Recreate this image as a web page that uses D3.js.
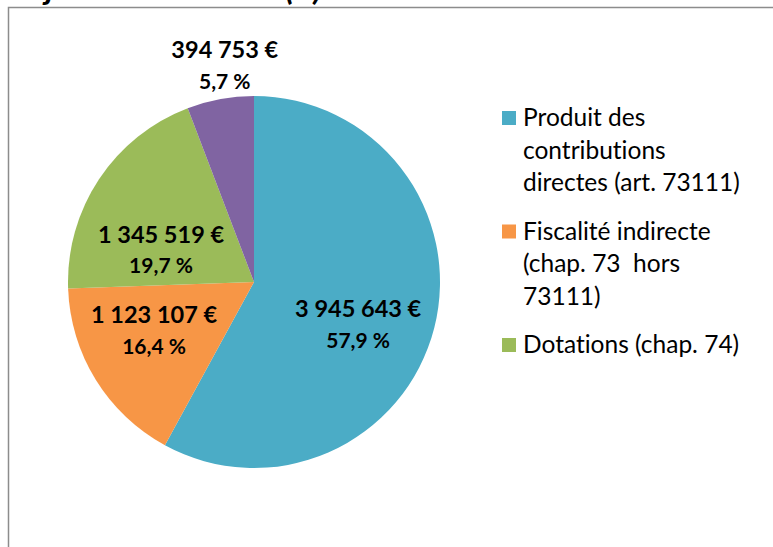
<!DOCTYPE html>
<html>
<head>
<meta charset="utf-8">
<script src="https://cdn.jsdelivr.net/npm/d3@7"></script>
<style>
  html, body { margin: 0; padding: 0; background: #fff; overflow: hidden; }
  text { font-family: Lato, "Open Sans", sans-serif; fill: #000; font-variant-ligatures: none; }
</style>
</head>
<body>
<div id="chart"></div>
<script>
// data
var categories = ["Produit des contributions directes (art. 73111)",
                  "Fiscalité indirecte (chap. 73 hors 73111)",
                  "Dotations (chap. 74)",
                  "Autres"];
var amounts = [3945643, 1123107, 1345519, 394753];
var percents = [57.9, 16.4, 19.7, 5.7];
var colors = ["#4bacc6", "#f79646", "#9bbb59", "#8064a2"];
var legendLines = [["Produit des", "contributions", "directes (art. 73111)"],
                   ["Fiscalité indirecte", "(chap. 73  hors", "73111)"],
                   ["Dotations (chap. 74)"]];
var title = "Projections en 2011 (€)";

// layout
var width = 773, height = 547;
var cx = 254, cy = 282, radius = 186;
var labelNudge = [[-4, 14], [-5, -11], [0, 29], [11, 1]];

var fr = d3.formatLocale({decimal: ",", thousands: "\u00a0", grouping: [3], currency: ["", " €"]});
var fmtAmount = fr.format(",d");
var fmtPct = fr.format(".1f");

var svg = d3.select("#chart").append("svg")
    .attr("width", width)
    .attr("height", height);

svg.append("rect").attr("width", width).attr("height", height).attr("fill", "#fff");

// chart title, mostly cut off by the top edge (as in the source picture)
svg.append("text")
    .attr("x", -2)
    .attr("y", 0)
    .attr("font-size", 33)
    .attr("font-weight", "bold")
    .attr("font-style", "italic")
    .text(title);

// frame of the chart area
svg.append("path")
    .attr("d", "M8.5," + (height + 5) + "V7.5H" + (width + 5))
    .attr("fill", "none")
    .attr("stroke", "#8c8c8c")
    .attr("stroke-width", 1.5);

var pie = d3.pie().sort(null).value(d => d);
var arcs = pie(amounts);
var total = d3.sum(amounts);

var arc = d3.arc().innerRadius(0).outerRadius(radius);
var inArc = d3.arc().innerRadius(radius * 0.6).outerRadius(radius * 0.6);
var outArc = d3.arc().innerRadius(radius + 36).outerRadius(radius + 36);

var g = svg.append("g").attr("transform", `translate(${cx}, ${cy})`);

g.selectAll("path.slice")
    .data(arcs)
    .enter().append("path")
    .attr("class", "slice")
    .attr("d", arc)
    .attr("fill", (d, i) => colors[i]);

var labels = g.selectAll("g.lbl")
    .data(arcs)
    .enter().append("g")
    .attr("class", "lbl")
    .attr("transform", function(d, i) {
        var c = (d.value / total < 0.1 ? outArc : inArc).centroid(d);
        return `translate(${c[0] + labelNudge[i][0]}, ${c[1] + labelNudge[i][1]})`;
    });

labels.append("text")
    .attr("text-anchor", "middle")
    .attr("dominant-baseline", "central")
    .attr("y", -15.5)
    .attr("font-size", 23.5)
    .attr("font-weight", "bold")
    .text(d => fmtAmount(d.value) + " €");

labels.append("text")
    .attr("text-anchor", "middle")
    .attr("dominant-baseline", "central")
    .attr("y", 15.5)
    .attr("font-size", 21)
    .attr("font-weight", "bold")
    .text((d, i) => fmtPct(percents[i]) + " %");

// legend
var lineH = 32.5;
var legend = svg.append("g").attr("transform", "translate(502, 126)");
var y0 = 0;
legendLines.forEach(function(lines, i) {
    var item = legend.append("g").attr("transform", `translate(0, ${y0})`);
    item.append("rect")
        .attr("x", 0)
        .attr("y", -15)
        .attr("width", 14)
        .attr("height", 14)
        .attr("fill", colors[i]);
    var t = item.append("text")
        .attr("x", 21)
        .attr("y", 0)
        .attr("font-size", 24.5)
        .style("white-space", "pre");
    lines.forEach(function(line, j) {
        t.append("tspan").attr("x", 21).attr("y", j * lineH).text(line);
    });
    y0 += lines.length * lineH + 16;
});
</script>
</body>
</html>
